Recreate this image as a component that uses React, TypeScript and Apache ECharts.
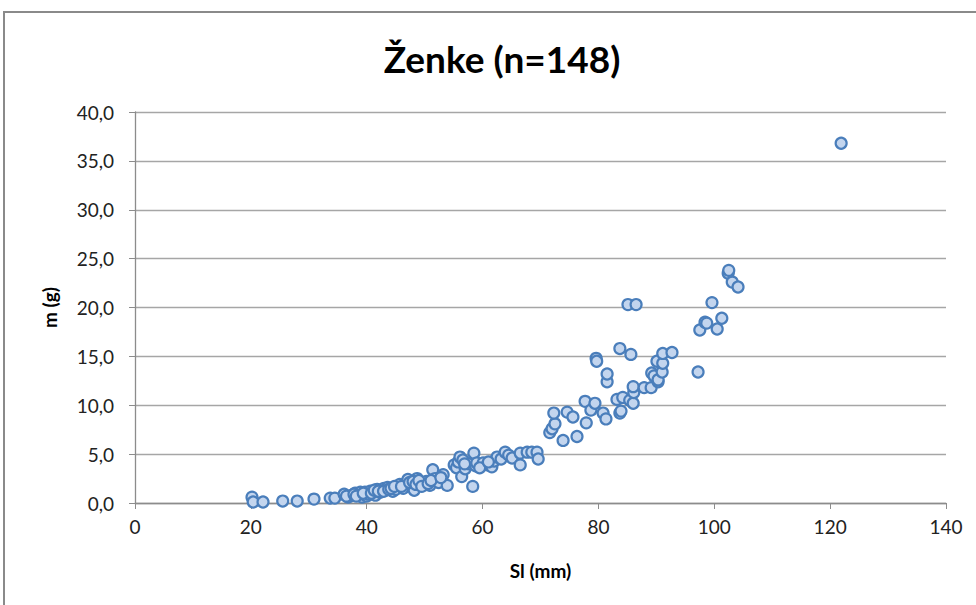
import React, { useEffect, useRef } from "react";
import * as echarts from "echarts";

const chartTitle = "Ženke (n=148)";
const xAxisName = "Sl (mm)";
const yAxisName = "m (g)";

const slMm: number[] = [
  20.2, 20.4, 22.1, 25.5, 28.0, 30.9, 33.7, 34.5, 36.1, 36.8,
  37.5, 38.0, 38.5, 38.9, 39.2, 39.7, 40.0, 40.3, 40.6, 41.1,
  41.5, 41.8, 42.3, 42.6, 43.0, 43.2, 43.6, 44.5, 45.0, 45.7,
  46.3, 46.8, 47.1, 47.8, 48.2, 48.7, 49.2, 49.7, 50.3, 50.9,
  51.4, 51.8, 52.4, 53.2, 53.9, 55.1, 55.5, 55.8, 56.1, 56.6,
  56.4, 57.0, 57.6, 58.3, 58.5, 58.8, 59.0, 60.1, 60.8, 61.6,
  62.0, 62.5, 63.2, 63.9, 64.5, 65.1, 66.5, 66.5, 67.7, 68.5,
  69.4, 69.6,
  36.5, 37.8, 38.2, 39.4, 40.8, 41.3, 42.0, 42.9, 43.8, 44.2,
  44.8, 46.0, 47.4, 48.0, 48.5, 49.0, 49.5, 50.6, 51.1, 52.8,
  56.9, 59.5, 61.0,
  71.6, 72.0, 72.5, 72.3, 73.9, 74.6, 75.6, 76.3, 77.9, 77.7,
  78.7, 79.4, 79.6, 79.7, 80.8, 81.3, 81.5, 81.5, 83.2, 83.7,
  83.9, 83.7, 84.2, 85.1, 85.4, 85.6, 86.0, 86.1, 86.0, 86.5,
  87.9, 89.1, 89.2, 89.6, 90.3, 90.3, 90.1, 91.0, 91.1, 91.1,
  92.7, 97.2, 97.5, 98.4, 98.7, 99.6, 100.5, 101.3, 102.4, 102.5,
  103.1, 104.1, 121.9,
];

const massG: number[] = [
  0.6, 0.1, 0.1, 0.2, 0.2, 0.4, 0.5, 0.5, 0.9, 0.6,
  0.8, 1.0, 0.8, 1.1, 0.6, 1.1, 0.7, 0.9, 1.2, 1.0,
  0.8, 1.4, 1.1, 1.3, 1.5, 1.3, 1.6, 1.2, 1.4, 1.9,
  1.5, 2.0, 2.4, 1.8, 1.3, 2.5, 2.0, 2.0, 2.2, 1.8,
  3.4, 2.5, 2.1, 2.9, 1.8, 3.9, 3.6, 4.2, 4.7, 4.4,
  2.7, 3.5, 4.0, 1.7, 5.1, 3.8, 4.1, 4.1, 3.9, 3.7,
  4.3, 4.7, 4.5, 5.2, 4.9, 4.6, 3.9, 5.1, 5.2, 5.2,
  5.2, 4.5,
  0.7, 0.9, 0.7, 1.0, 1.0, 1.3, 1.2, 1.2, 1.4, 1.5,
  1.7, 1.7, 2.1, 2.2, 1.9, 2.3, 1.7, 2.0, 2.3, 2.6,
  4.0, 3.6, 4.2,
  7.2, 7.6, 8.1, 9.2, 6.4, 9.3, 8.8, 6.8, 8.2, 10.4,
  9.5, 10.2, 14.8, 14.5, 9.2, 8.6, 12.4, 13.2, 10.6, 9.2,
  9.4, 15.8, 10.8, 20.3, 10.5, 15.2, 10.2, 11.3, 11.9, 20.3,
  11.8, 11.8, 13.3, 13.0, 12.4, 12.6, 14.5, 13.4, 14.3, 15.3,
  15.4, 13.4, 17.7, 18.5, 18.4, 20.5, 17.8, 18.9, 23.5, 23.8,
  22.6, 22.1, 36.8,
];

const xTicks = { min: 0, max: 140, interval: 20 };
const yTicks = { min: 0, max: 40, interval: 5 };

export default function App() {
  const ref = useRef<HTMLDivElement>(null);
  useEffect(() => {
    if (!ref.current) return;
    const chart = echarts.init(ref.current, undefined, { renderer: "svg" });
    const points = slMm.map((x, i) => [x, massG[i]]);
    const font = "Lato, 'Open Sans', sans-serif";
    chart.setOption({
      animation: false,
      backgroundColor: "#ffffff",
      title: {
        text: chartTitle,
        left: 497,
        top: 35,
        textAlign: "center",
        textStyle: { fontFamily: font, fontSize: 37, fontWeight: "bold", color: "#000" },
      },
      graphic: [
        {
          type: "rect",
          shape: { x: 4, y: 12, width: 1100, height: 800 },
          style: { fill: "none", stroke: "#8a8a8a", lineWidth: 2 },
          silent: true,
          z: -10,
        },
      ],
      grid: { left: 135, right: 30, top: 112, bottom: 102, containLabel: false },
      xAxis: {
        type: "value",
        min: xTicks.min,
        max: xTicks.max,
        interval: xTicks.interval,
        name: xAxisName,
        nameLocation: "middle",
        nameGap: 58,
        nameTextStyle: { fontFamily: font, fontSize: 19, fontWeight: "bold", color: "#000" },
        axisLine: { show: true, lineStyle: { color: "#8c8c8c", width: 1.3 } },
        axisTick: { show: true, length: 6, lineStyle: { color: "#8c8c8c" } },
        axisLabel: { fontFamily: font, fontSize: 19, color: "#222", margin: 14 },
        splitLine: { show: false },
      },
      yAxis: {
        type: "value",
        min: yTicks.min,
        max: yTicks.max,
        interval: yTicks.interval,
        name: yAxisName,
        nameLocation: "middle",
        nameGap: 76,
        nameRotate: 90,
        nameTextStyle: { fontFamily: font, fontSize: 19, fontWeight: "bold", color: "#000" },
        axisLine: { show: true, lineStyle: { color: "#8c8c8c", width: 1.3 } },
        axisTick: { show: true, length: 6, lineStyle: { color: "#8c8c8c" } },
        axisLabel: {
          fontFamily: font,
          fontSize: 19,
          color: "#222",
          margin: 21,
          formatter: (v: number) => v.toFixed(1).replace(".", ","),
        },
        splitLine: { show: true, lineStyle: { color: "#a6a6a6", width: 1.3 } },
      },
      series: [
        {
          type: "scatter",
          data: points,
          symbol: "circle",
          symbolSize: 11,
          itemStyle: { color: "#c3d5ee", borderColor: "#4a7ebb", borderWidth: 2.2, opacity: 1 },
        },
      ],
    });
    return () => chart.dispose();
  }, []);
  return (
    <div
      ref={ref}
      style={{ position: "absolute", left: 0, top: 0, width: 976, height: 605 }}
    />
  );
}
